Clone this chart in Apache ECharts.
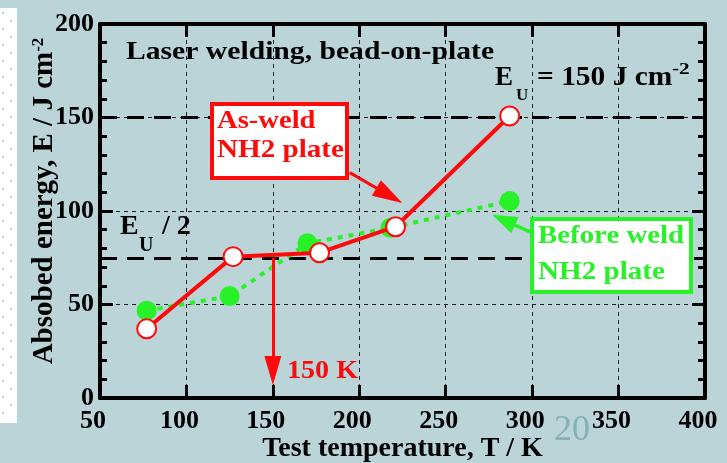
<!DOCTYPE html>
<html>
<head>
<meta charset="utf-8">
<script src="https://cdn.jsdelivr.net/npm/echarts@6/dist/echarts.min.js"></script>
<style>
html,body{margin:0;padding:0;background:#bad4d8;}
#chart{width:727px;height:463px;}
</style>
</head>
<body>
<div id="chart"></div>
<script>
// ---- data ----
const tempAsWeld = [77, 127, 177, 221, 287];          // Test temperature, K
const energyAsWeld = [37, 75.6, 77.7, 91.6, 150.8];   // Absorbed energy, J cm^-2
const tempBeforeWeld = [77, 125, 170, 218, 287];
const energyBeforeWeld = [46.7, 54.5, 82.7, 91, 105.3];
const upperShelfEnergy = 150;                          // E_U
const transitionTemp = 150;                            // 150 K
const xRange = [50, 400, 50];                          // min, max, step (tick labels 50..400)
const yRange = [0, 200, 50];                           // min, max, step (tick labels 0..200)

const serif = "'Liberation Serif','Times New Roman',serif";
const RED = '#ff0a0a';
const GREEN = '#27f227';

function pairs(xs, ys) { return xs.map((x, i) => [x, ys[i]]); }

function txt(x, y, text, size, color, sx, weight) {
  return {
    type: 'text', x: x, y: y, scaleX: sx || 1, z: 20,
    style: {
      text: text, fill: color,
      font: (weight || 'bold') + ' ' + size + 'px ' + serif,
      align: 'left', textAlign: 'left',
      verticalAlign: 'middle', textVerticalAlign: 'middle'
    }
  };
}

const axisLineStyle = { show: true, onZero: false, lineStyle: { color: '#000', width: 4 } };
const majorTick = { show: true, inside: true, length: 13, lineStyle: { color: '#000', width: 3 } };
const minorTick = { show: true, splitNumber: 5, length: 7, lineStyle: { color: '#000', width: 3 } };
const gridDash = { show: true, lineStyle: { color: '#222', width: 1, type: [4, 4] } };
const labelFont = { fontFamily: serif, fontWeight: 'bold', fontSize: 26, color: '#000' };

const graphics = [];
// slide decoration at the left edge
graphics.push({ type: 'rect', z: 0, shape: { x: 0, y: 8, width: 17, height: 415 }, style: { fill: '#ffffff' } });
for (let yy = 12; yy < 420; yy += 8) {
  const col = (Math.round((yy - 12) / 8) % 2 === 0) ? 2 : 10;
  graphics.push({ type: 'rect', z: 0, shape: { x: col, y: yy, width: 2, height: 2 }, style: { fill: '#c8c8c8' } });
}
// page number
graphics.push(txt(554, 431, '20', 36, '#86b0b8', 1, 'normal'));
// annotations
graphics.push(txt(126, 52, 'Laser welding, bead-on-plate', 26, '#000', 1.14));
graphics.push(txt(495, 78, 'E', 27, '#000', 1));
graphics.push(txt(516, 96, 'U', 17, '#000', 1));
graphics.push(txt(537, 78, '= 150 J cm', 27, '#000', 1.09));
graphics.push(txt(672, 70, '-2', 17, '#000', 1.25));
graphics.push(txt(120, 227, 'E', 28, '#000', 1));
graphics.push(txt(139, 246, 'U', 20, '#000', 1));
graphics.push(txt(162, 227, '/ 2', 28, '#000', 1));
graphics.push(txt(287, 371, '150 K', 26, RED, 1.08));
// label boxes
graphics.push({ type: 'rect', z: 19, shape: { x: 212, y: 104, width: 135, height: 74 }, style: { fill: '#fff', stroke: RED, lineWidth: 4 } });
graphics.push(txt(217, 121, 'As-weld', 26, RED, 1.1));
graphics.push(txt(217, 150, 'NH2 plate', 26, RED, 1.12));
graphics.push({ type: 'rect', z: 19, shape: { x: 532, y: 219, width: 159, height: 73 }, style: { fill: '#fff', stroke: GREEN, lineWidth: 4 } });
graphics.push(txt(538, 236, 'Before weld', 26, GREEN, 1.11));
graphics.push(txt(538, 272, 'NH2 plate', 26, GREEN, 1.12));

const option = {
  backgroundColor: '#bad4d8',
  animation: false,
  grid: { left: 100, right: 22, top: 24, bottom: 65, containLabel: false, outerBoundsMode: 'none' },
  xAxis: [
    {
      type: 'value', min: xRange[0], max: xRange[1], interval: xRange[2], position: 'bottom',
      axisLine: axisLineStyle, axisTick: majorTick,
      axisLabel: Object.assign({ margin: 10, padding: [0, 14, 0, 0] }, labelFont),
      splitLine: gridDash,
      name: 'Test temperature, T / K', nameLocation: 'middle', nameGap: 37, nameMoveOverlap: false,
      nameTextStyle: { fontFamily: serif, fontWeight: 'bold', fontSize: 28, color: '#000' }
    },
    {
      type: 'value', min: xRange[0], max: xRange[1], interval: xRange[2], position: 'top',
      axisLine: axisLineStyle, axisTick: majorTick, axisLabel: { show: false }, splitLine: { show: false }
    }
  ],
  yAxis: [
    {
      type: 'value', min: yRange[0], max: yRange[1], interval: yRange[2], position: 'left',
      axisLine: axisLineStyle, axisTick: majorTick, minorTick: minorTick,
      axisLabel: Object.assign({ margin: 6, padding: [0, 0, 8, 0] }, labelFont),
      splitLine: gridDash,
      name: '{a|Absobed energy, E / J cm}{s|-2}', nameLocation: 'middle', nameGap: 41, nameMoveOverlap: false,
      nameTextStyle: {
        padding: [0, 0, 0, 20],
        rich: {
          a: { fontFamily: serif, fontWeight: 'bold', fontSize: 29, lineHeight: 29, color: '#000', verticalAlign: 'bottom' },
          s: { fontFamily: serif, fontWeight: 'bold', fontSize: 17, lineHeight: 17, color: '#000', verticalAlign: 'top', padding: [0, 0, 20, 0] }
        }
      }
    },
    {
      type: 'value', min: yRange[0], max: yRange[1], interval: yRange[2], position: 'right',
      axisLine: axisLineStyle, axisTick: majorTick, minorTick: minorTick,
      axisLabel: { show: false }, splitLine: { show: false }
    }
  ],
  graphic: graphics,
  series: [
    {
      name: 'reference lines', type: 'line', data: [], silent: true,
      markLine: {
        z: 1, silent: true, symbol: 'none', label: { show: false },
        lineStyle: { color: '#000', width: 3, type: [17, 10] },
        data: [{ yAxis: upperShelfEnergy }, { yAxis: upperShelfEnergy / 2 }]
      }
    },
    {
      name: 'Before weld NH2 plate', type: 'line', z: 3,
      data: pairs(tempBeforeWeld, energyBeforeWeld),
      symbol: 'circle', symbolSize: 20,
      itemStyle: { color: GREEN },
      lineStyle: { color: GREEN, width: 4, type: [5, 6] },
      emphasis: { disabled: true }
    },
    {
      name: 'As-weld NH2 plate', type: 'line', z: 4,
      data: pairs(tempAsWeld, energyAsWeld),
      symbol: 'circle', symbolSize: 19,
      itemStyle: { color: '#ffffff', borderColor: RED, borderWidth: 2 },
      lineStyle: { color: RED, width: 4 },
      emphasis: { disabled: true }
    },
    {
      name: 'red arrows', type: 'line', data: [], silent: true, color: RED,
      markLine: {
        silent: true, symbol: ['none', 'triangle'], label: { show: false },
        lineStyle: { color: RED, width: 3, type: 'solid' },
        itemStyle: { color: RED },
        data: [
          [{ coord: [transitionTemp, upperShelfEnergy / 2] }, { coord: [transitionTemp, 14.7], symbolSize: [17, 29] }],
          [{ coord: [194.5, 120.5] }, { coord: [217.4, 108.3], symbolSize: [18, 30] }]
        ]
      }
    },
    {
      name: 'green arrow', type: 'line', data: [], silent: true, color: GREEN,
      markLine: {
        silent: true, symbol: ['none', 'triangle'], label: { show: false },
        lineStyle: { color: GREEN, width: 3.5, type: 'solid' },
        itemStyle: { color: GREEN },
        data: [
          [{ coord: [298.8, 88.8] }, { coord: [283.5, 95.2], symbolSize: [18, 25] }]
        ]
      }
    }
  ]
};

const chart = echarts.init(document.getElementById('chart'));
chart.setOption(option);
</script>
</body>
</html>
